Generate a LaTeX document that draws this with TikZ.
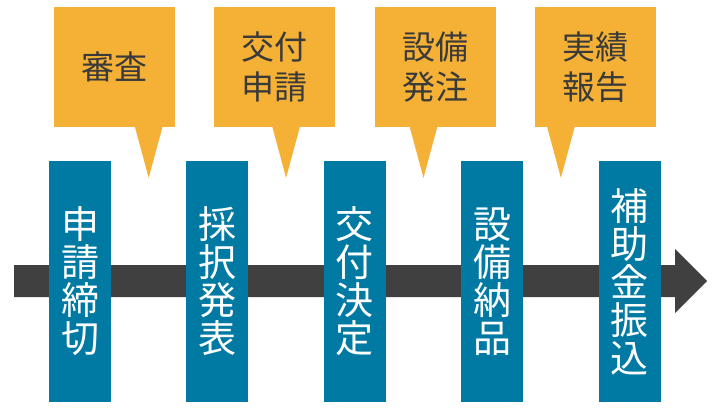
\documentclass[tikz,border=0pt]{standalone}
\usepackage{fontspec}
\newfontfamily\jp{Noto Sans CJK JP}
\usetikzlibrary{positioning, calc, chains}
\definecolor{stepblue}{RGB}{0,122,163}
\definecolor{noteorange}{RGB}{245,177,53}
\definecolor{axisgray}{RGB}{64,64,64}
\definecolor{notetext}{RGB}{58,58,58}
\tikzset{
	stage/.style={fill=stepblue, text=white, minimum width=62pt, minimum height=241pt, inner sep=0pt, align=center, font=\jp\fontsize{38}{38}\selectfont},
	note/.style={fill=noteorange, text=notetext, minimum width=121pt, minimum height=120pt, inner sep=0pt, align=center, font=\jp\fontsize{33}{40}\selectfont},
}
\begin{document}
\begin{tikzpicture}[x=1pt, y=-1pt, start chain=1 going right, start chain=2 going right]
			\useasboundingbox (0,0) rectangle (714,412);
			% time axis
			\coordinate (tail) at (14,281);
			\coordinate (head) at (707,281);
			\fill[axisgray] (tail) ++(0,-16) -- ++(661,0) -- ++(0,-16) -- (head) -- ++(-32,32) -- ++(0,-16) -- ++(-661,0) -- cycle;
			% stages
			\begin{scope}[node distance=75pt]
			\node[stage, on chain=1] at (80,281.5) (s1) {申\\請\\締\\切};
			\node[stage, on chain=1] (s2) {採\\択\\発\\表};
			\node[stage, on chain=1] (s3) {交\\付\\決\\定};
			\node[stage, on chain=1] (s4) {設\\備\\納\\品};
			\node[stage, on chain=1] (s5) {補\\助\\金\\振\\込};
			\end{scope}
			% notes
			\begin{scope}[node distance=39pt]
			\node[note, on chain=2] at (114.5,67) (n1) {審査};
			\node[note, on chain=2] (n2) {交付\\申請};
			\node[note, on chain=2] (n3) {設備\\発注};
			\node[note, on chain=2] (n4) {実績\\報告};
			\end{scope}
			\foreach \i in {1,...,4} {
				\pgfmathtruncatemacro\j{\i+1}
				\coordinate (tip\i) at ($(s\i.north east)!0.5!(s\j.north west)+(0,17)$);
				\fill[noteorange] ($(n\i.south -| tip\i)+(-14,-1)$) -- (tip\i) -- ($(n\i.south -| tip\i)+(14,-1)$) -- cycle;
			}
		\end{tikzpicture}
\end{document}
